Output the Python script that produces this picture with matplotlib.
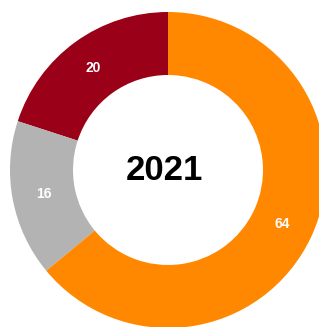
import numpy as np
import matplotlib.pyplot as plt

values = [20, 16, 64]
colors = ['#9A0018', '#B3B3B3', '#FF8800']
center_text = '2021'

plt.rcParams['font.family'] = ['Liberation Sans', 'DejaVu Sans']

fig = plt.figure(figsize=(3.19, 3.27), dpi=100)
ax = fig.add_axes([0, 0, 1, 1])

# donut geometry in pixels (center, outer/inner radius)
R = 158.0
cx, cy = 168.0, 170.0
W, H = 319.0, 327.0
inner = 95.0

ax.pie(values, colors=colors, startangle=90, counterclock=True,
       radius=1.0, wedgeprops=dict(width=(R - inner) / R, linewidth=0))

total = sum(values)
start = 90.0
rl = (R + inner) / 2 / R
for v in values:
    mid = np.deg2rad(start + 360.0 * v / total / 2)
    ax.text(rl * np.cos(mid), rl * np.sin(mid), str(v), color='white',
            fontsize=10, fontweight='bold', ha='center', va='center')
    start += 360.0 * v / total

ax.text(-0.02, 0.02, center_text, fontsize=25, fontweight='bold',
        ha='center', va='center_baseline', color='black')

ax.set_aspect('auto')
ax.set_xlim(-cx / R, (W - cx) / R)
ax.set_ylim(-(H - cy) / R, cy / R)
ax.axis('off')

fig.savefig('out.png', dpi=100)
